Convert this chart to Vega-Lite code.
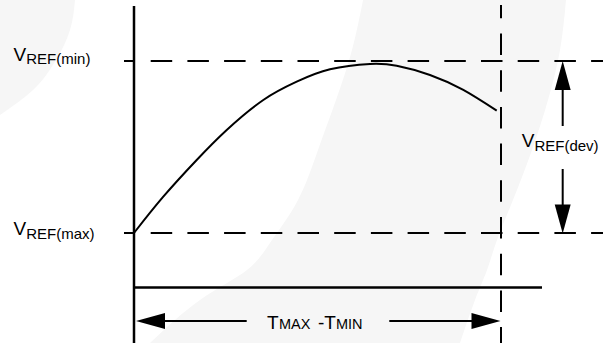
{
  "$schema": "https://vega.github.io/schema/vega-lite/v6.json",
  "width": 613,
  "height": 343,
  "autosize": {"type": "none"},
  "padding": 0,
  "background": "white",
  "config": {"view": {"stroke": null}},
  "datasets": {
    "crescent": [
      {"v": 135.47, "t": 62.4, "t2": 117.71},
      {"v": 106.4, "t": 59.4, "t2": 116.08},
      {"v": 77.33, "t": 55.04, "t2": 112.81},
      {"v": 48.26, "t": 50.14, "t2": 108.45},
      {"v": 19.19, "t": 44.69, "t2": 103.27},
      {"v": -4.07, "t": 37.6, "t2": 98.91},
      {"v": -21.51, "t": 30.79, "t2": 96.19},
      {"v": -38.95, "t": 17.98, "t2": 92.92},
      {"v": -63.95, "t": 4.36, "t2": 88.83}
    ],
    "corner": [
      {"v": 135.47, "t": -36.51, "t2": -16.08},
      {"v": 118.02, "t": -36.51, "t2": -17.44},
      {"v": 100.58, "t": -36.51, "t2": -21.25},
      {"v": 83.14, "t": -36.51, "t2": -27.52},
      {"v": 68.6, "t": -36.51, "t2": -36.51}
    ],
    "curve": [
      {"t": 0, "v": 0},
      {"t": 7.98, "v": 21.1},
      {"t": 17.08, "v": 42.44},
      {"t": 25.26, "v": 59.88},
      {"t": 35.23, "v": 77.33},
      {"t": 44.33, "v": 87.97},
      {"t": 53.41, "v": 95.17},
      {"t": 64.31, "v": 98.26},
      {"t": 71.58, "v": 97.2},
      {"t": 80.65, "v": 91.9},
      {"t": 89.73, "v": 83.14},
      {"t": 98.83, "v": 71.1}
    ],
    "levels": [
      {"name": "VREF(min)", "v": 100, "t": 4.55, "t2": 127.79},
      {"name": "VREF(max)", "v": 0, "t": 4.55, "t2": 127.79}
    ],
    "ticks": [
      {"v": 100, "t": -2.72, "t2": 0},
      {"v": 0, "t": -2.72, "t2": 0}
    ],
    "vaxis": [{"t": 0, "v": 132.0, "v2": -63.95}],
    "tmax": [{"t": 100, "v": 132.56, "v2": -63.95}],
    "haxis": [{"v": -31.69, "t": 0, "t2": 111.17}],
    "hshafts": [
      {"v": -51.16, "t": 8.45, "t2": 30.71},
      {"v": -51.16, "t": 69.56, "t2": 92.1}
    ],
    "vshafts": [
      {"t": 116.81, "v": 83.14, "v2": 62.21},
      {"t": 116.81, "v": 37.21, "v2": 16.28}
    ],
    "heads": [
      {"t": 4.5, "v": -51.16, "dir": "left"},
      {"t": 95.91, "v": -51.16, "dir": "right"},
      {"t": 116.81, "v": 91.57, "dir": "up"},
      {"t": 116.81, "v": 8.14, "dir": "down"}
    ],
    "bigText": [
      {"t": -32.83, "v": 100.17, "text": "V"},
      {"t": -32.83, "v": -1.16, "text": "V"},
      {"t": 105.64, "v": 50.17, "text": "V"},
      {"t": 36.24, "v": -55.81, "text": "T"},
      {"t": 50.14, "v": -55.81, "text": "-T"}
    ],
    "subText": [
      {"t": -29.37, "v": 98.26, "text": "REF(min)"},
      {"t": -29.37, "v": -3.66, "text": "REF(max)"},
      {"t": 109.1, "v": 47.67, "text": "REF(dev)"}
    ],
    "capsText": [
      {"t": 39.51, "v": -55.81, "text": "MAX"},
      {"t": 55.04, "v": -55.81, "text": "MIN"}
    ]
  },
  "layer": [
    {
      "data": {"name": "crescent"},
      "mark": {"type": "area", "orient": "horizontal", "color": "#f6f6f6", "interpolate": "natural"},
      "encoding": {
        "y": {"field": "v", "type": "quantitative", "axis": null, "scale": {"domain": [0, 100], "range": [233, 61], "nice": false, "zero": false}},
        "x": {"field": "t", "type": "quantitative", "axis": null, "scale": {"domain": [0, 100], "range": [134, 501], "nice": false, "zero": false}},
        "x2": {"field": "t2"}
      }
    },
    {
      "data": {"name": "corner"},
      "mark": {"type": "area", "orient": "horizontal", "color": "#f6f6f6", "interpolate": "monotone"},
      "encoding": {
        "y": {"field": "v", "type": "quantitative"},
        "x": {"field": "t", "type": "quantitative"},
        "x2": {"field": "t2"}
      }
    },
    {
      "data": {"name": "levels"},
      "mark": {"type": "rule", "color": "black", "strokeWidth": 2, "strokeDash": [21.5, 15.2]},
      "encoding": {
        "y": {"field": "v", "type": "quantitative"},
        "x": {"field": "t", "type": "quantitative"},
        "x2": {"field": "t2"}
      }
    },
    {
      "data": {"name": "tmax"},
      "mark": {"type": "rule", "color": "black", "strokeWidth": 2, "strokeDash": [21.5, 15.2], "strokeDashOffset": 8.2},
      "encoding": {
        "x": {"field": "t", "type": "quantitative"},
        "y": {"field": "v", "type": "quantitative"},
        "y2": {"field": "v2"}
      }
    },
    {
      "data": {"name": "ticks"},
      "mark": {"type": "rule", "color": "black", "strokeWidth": 2},
      "encoding": {
        "y": {"field": "v", "type": "quantitative"},
        "x": {"field": "t", "type": "quantitative"},
        "x2": {"field": "t2"}
      }
    },
    {
      "data": {"name": "vaxis"},
      "mark": {"type": "rule", "color": "black", "strokeWidth": 2.5},
      "encoding": {
        "x": {"field": "t", "type": "quantitative"},
        "y": {"field": "v", "type": "quantitative"},
        "y2": {"field": "v2"}
      }
    },
    {
      "data": {"name": "haxis"},
      "mark": {"type": "rule", "color": "black", "strokeWidth": 2.5},
      "encoding": {
        "y": {"field": "v", "type": "quantitative"},
        "x": {"field": "t", "type": "quantitative"},
        "x2": {"field": "t2"}
      }
    },
    {
      "data": {"name": "hshafts"},
      "mark": {"type": "rule", "color": "black", "strokeWidth": 2},
      "encoding": {
        "y": {"field": "v", "type": "quantitative"},
        "x": {"field": "t", "type": "quantitative"},
        "x2": {"field": "t2"}
      }
    },
    {
      "data": {"name": "vshafts"},
      "mark": {"type": "rule", "color": "black", "strokeWidth": 2},
      "encoding": {
        "x": {"field": "t", "type": "quantitative"},
        "y": {"field": "v", "type": "quantitative"},
        "y2": {"field": "v2"}
      }
    },
    {
      "data": {"name": "heads"},
      "mark": {"type": "point", "filled": true, "color": "black", "opacity": 1, "size": 841, "strokeWidth": 0},
      "encoding": {
        "x": {"field": "t", "type": "quantitative"},
        "y": {"field": "v", "type": "quantitative"},
        "shape": {
          "field": "dir", "type": "nominal", "legend": null,
          "scale": {
            "domain": ["left", "right", "up", "down"],
            "range": ["M-1,0L1,-0.55L1,0.55Z", "M1,0L-1,-0.55L-1,0.55Z", "M0,-1L-0.55,1L0.55,1Z", "M0,1L-0.55,-1L0.55,-1Z"]
          }
        }
      }
    },
    {
      "data": {"name": "curve"},
      "mark": {"type": "line", "color": "black", "strokeWidth": 2, "interpolate": "natural"},
      "encoding": {
        "x": {"field": "t", "type": "quantitative"},
        "y": {"field": "v", "type": "quantitative"}
      }
    },
    {
      "data": {"name": "bigText"},
      "mark": {"type": "text", "font": "Liberation Sans", "fontSize": 19, "align": "left", "baseline": "alphabetic", "color": "black"},
      "encoding": {
        "x": {"field": "t", "type": "quantitative"},
        "y": {"field": "v", "type": "quantitative"},
        "text": {"field": "text"}
      }
    },
    {
      "data": {"name": "subText"},
      "mark": {"type": "text", "font": "Liberation Sans", "fontSize": 15, "align": "left", "baseline": "alphabetic", "color": "black"},
      "encoding": {
        "x": {"field": "t", "type": "quantitative"},
        "y": {"field": "v", "type": "quantitative"},
        "text": {"field": "text"}
      }
    },
    {
      "data": {"name": "capsText"},
      "mark": {"type": "text", "font": "Liberation Sans", "fontSize": 14.5, "align": "left", "baseline": "alphabetic", "color": "black"},
      "encoding": {
        "x": {"field": "t", "type": "quantitative"},
        "y": {"field": "v", "type": "quantitative"},
        "text": {"field": "text"}
      }
    }
  ]
}
